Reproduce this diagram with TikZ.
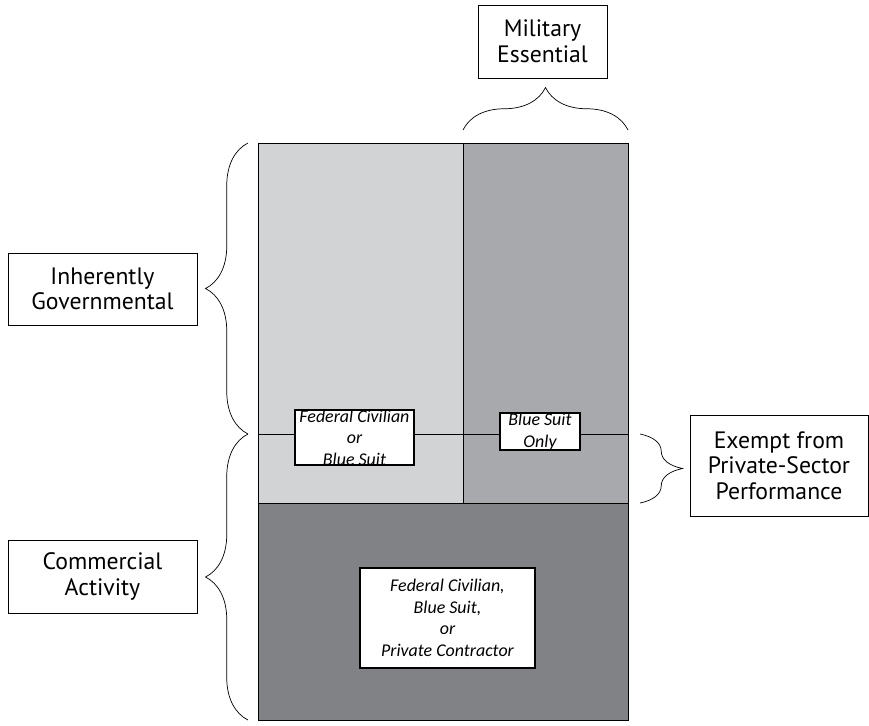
\documentclass[tikz,border=0pt]{standalone}
\usepackage{fontspec}
\setmainfont{PT Sans}
\newfontfamily\rolefont{Carlito}
\usetikzlibrary{decorations.pathreplacing}
\definecolor{lightcell}{HTML}{D1D3D4}
\definecolor{midcell}{HTML}{A7A9AC}
\definecolor{darkcell}{HTML}{808285}
\begin{document}
\begin{tikzpicture}[
    x=0.02cm,
    y=-0.02cm,
    labelbox/.style={
        rectangle,
        draw,
        fill=white,
        thin,
        align=center,
        inner sep=0pt,
        font=\fontsize{13.5}{14.6}\selectfont,
    },
    rolebox/.style={
        rectangle,
        draw,
        fill=white,
        line width=1.1pt,
        align=center,
        inner sep=0pt,
        font=\rolefont\fontsize{10.2}{12.3}\selectfont\itshape,
    },
    bracket/.style={
        decorate,
        decoration={brace,amplitude=0.85cm},
        thin,
    },
]

    \useasboundingbox (0,0) rectangle (869,725);

    % the cells
    \coordinate (nw) at (258,143);
    \coordinate (split) at (463,143);
    \coordinate (ne) at (628,143);
    \coordinate (sw) at (258,720);
    \coordinate (se) at (628,720);

    \fill[lightcell] (nw) rectangle (463,503);
    \fill[midcell]   (split) rectangle (628,503);
    \fill[darkcell]  (258,503) rectangle (se);

    \draw[thin] (nw) rectangle (se);
    \draw[thin] (split) -- (463,503);
    \draw[thin] (258,503) -- (628,503);
    \draw[thin] (258,434) -- (628,434);

    % the labels
    \node[labelbox,minimum width=2.58cm,minimum height=1.46cm] (mil) at (542.5,41.5) {Military\\Essential};
    \node[labelbox,minimum width=3.78cm,minimum height=1.44cm] (inh) at (102.5,289) {Inherently\\Governmental};
    \node[labelbox,minimum width=3.78cm,minimum height=1.46cm] (com) at (102.5,576.5) {Commercial\\Activity};
    \node[labelbox,minimum width=3.56cm,minimum height=2.02cm] (exe) at (779,465.5) {Exempt from\\Private-Sector\\Performance};

    \node[rolebox,minimum width=2.38cm,minimum height=1.10cm] (fcb) at (354.5,437.5) {Federal Civilian\\or\\Blue Suit};
    \node[rolebox,minimum width=1.60cm,minimum height=0.74cm] (bso) at (540,431.5) {Blue Suit\\Only};
    \node[rolebox,line width=1.5pt,minimum width=3.50cm,minimum height=2.00cm] (any) at (447.5,618) {Federal Civilian,\\Blue Suit,\\or\\Private Contractor};

    % the braces
    \draw[bracket] (463,130) -- (628,130);
    \draw[bracket] (248,434) -- (248,143);
    \draw[bracket] (248,720) -- (248,434);
    \draw[bracket] (640,434) -- (640,503);

\end{tikzpicture}
\end{document}
